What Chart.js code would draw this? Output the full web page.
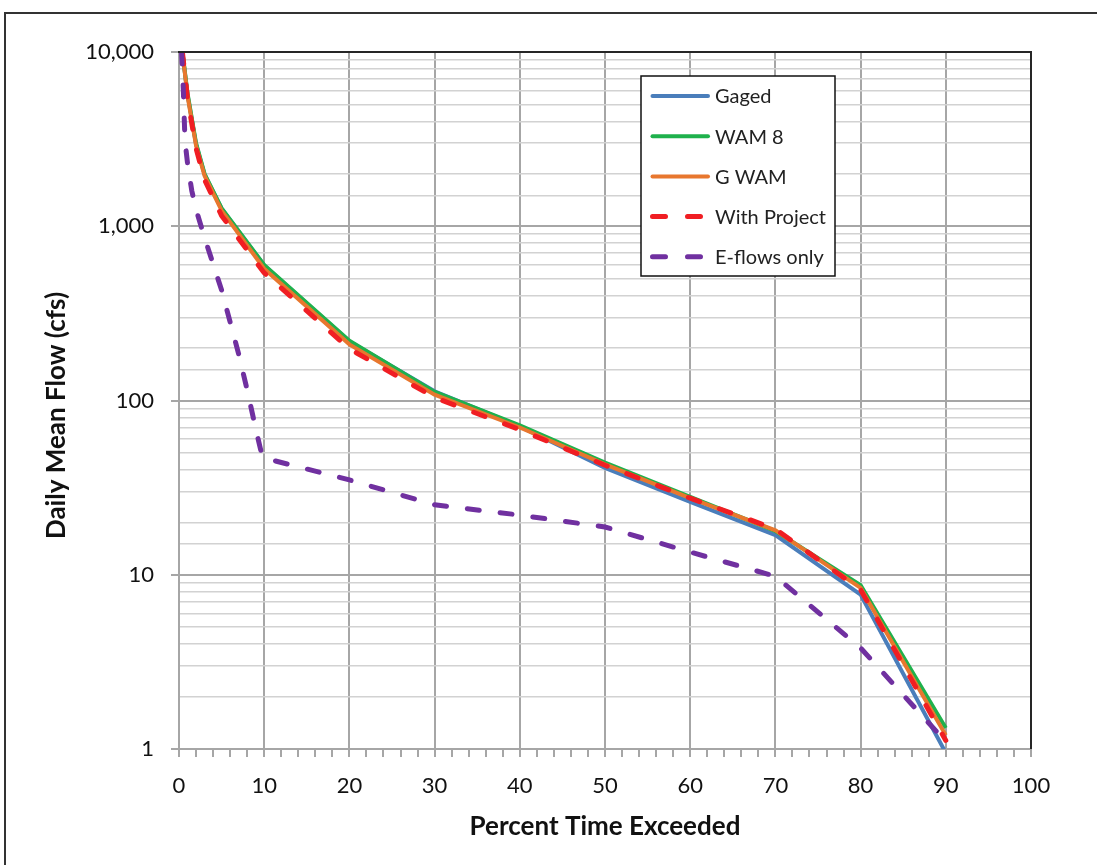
<!DOCTYPE html>
<html>
<head>
<meta charset="utf-8">
<title>Flow Duration Curve</title>
<script src="https://cdn.jsdelivr.net/npm/chart.js@4.4.1/dist/chart.umd.min.js"></script>
<style>
  html, body { margin: 0; padding: 0; background: #fff; }
  #wrap { position: relative; width: 1097px; height: 865px; overflow: hidden; }
  #frame { position: absolute; left: 4px; top: 12px; width: 1200px; height: 1000px; border: 2px solid #333; box-sizing: border-box; }
  #chart { position: absolute; left: 0; top: 0; }
</style>
</head>
<body>
<div id="wrap">
  <div id="frame"></div>
  <canvas id="chart" width="1097" height="865"></canvas>
</div>
<script>
// percent of time exceeded for the modelled / gaged series
const flowPct = [0.4, 1, 2, 3, 5, 10, 20, 30, 40, 50, 60, 70, 80, 90];
const gaged = [10000, 5700, 2950, 1980, 1260, 595, 218, 113, 71, 41, 26.2, 16.9, 7.7, 0.95];
const wam8 = [10000, 5800, 3000, 2000, 1270, 600, 220, 112, 72, 44, 28, 17.8, 8.7, 1.32];
const gwam = [10000, 5600, 2900, 1950, 1230, 570, 210, 108, 70, 43, 27.5, 18, 8.4, 1.2];
const withProject = [10000, 5400, 2800, 1850, 1150, 540, 198, 104, 68, 42.5, 27.5, 18.3, 8.2, 1.12];

// e-flows only curve has its own exceedance points
const eflowPct = [0.3, 0.5, 0.7, 1, 1.5, 2, 3, 5, 7, 8, 9, 9.8, 20, 30, 40, 50, 60, 70, 80, 90];
const eflowsOnly = [10000, 6200, 3100, 2300, 1600, 1250, 860, 430, 185, 115, 69, 47, 35, 25.2, 22, 18.8, 13.5, 9.8, 3.8, 1.1];

// labelled ticks
const pctTicks = [0, 10, 20, 30, 40, 50, 60, 70, 80, 90, 100];
const flowTicks = [1, 10, 100, 1000, 10000];

const pair = (xs, ys) => xs.map((x, i) => ({ x: x, y: ys[i] }));

const dashed = [12, 21];

const datasets = [
  { label: 'Gaged', data: pair(flowPct, gaged), borderColor: '#4a7ebb', borderWidth: 4, order: 5 },
  { label: 'WAM 8', data: pair(flowPct, wam8), borderColor: '#1fb14c', borderWidth: 4, order: 4 },
  { label: 'G WAM', data: pair(flowPct, gwam), borderColor: '#e8772e', borderWidth: 4, order: 3 },
  { label: 'With Project', data: pair(flowPct, withProject), borderColor: '#f01e23', borderWidth: 5, borderDash: dashed, borderCapStyle: 'round', order: 2 },
  { label: 'E-flows only', data: pair(eflowPct, eflowsOnly), borderColor: '#7030a0', borderWidth: 5, borderDash: dashed, borderCapStyle: 'round', order: 1 }
];
datasets.forEach(d => { d.pointRadius = 0; d.tension = 0; d.fill = false; });

const isDecade = v => flowTicks.includes(v);

// dark top/right edge of the plot, the y title and the boxed legend
const plotExtras = {
  id: 'plotExtras',
  afterDatasetsDraw(chart) {
    const { ctx, chartArea: a } = chart;
    ctx.save();
    ctx.strokeStyle = '#262626';
    ctx.lineWidth = 2;
    ctx.beginPath();
    ctx.moveTo(a.left - 1, a.top);
    ctx.lineTo(a.right, a.top);
    ctx.lineTo(a.right, a.bottom);
    ctx.stroke();

    // y title sits a little below the middle of the axis
    ctx.save();
    ctx.translate(57, (a.top + a.bottom) / 2 + 15);
    ctx.rotate(-Math.PI / 2);
    ctx.font = 'bold 26px Lato';
    ctx.fillStyle = '#111';
    ctx.textAlign = 'center';
    ctx.textBaseline = 'middle';
    ctx.fillText('Daily Mean Flow (cfs)', 0, 0);
    ctx.restore();

    const bx = 641, by = 76, bw = 194, bh = 200;
    ctx.fillStyle = '#fff';
    ctx.fillRect(bx, by, bw, bh);
    ctx.strokeStyle = '#111';
    ctx.lineWidth = 1.5;
    ctx.strokeRect(bx, by, bw, bh);

    ctx.font = '20px Lato';
    ctx.textBaseline = 'middle';
    ctx.textAlign = 'left';
    chart.data.datasets.forEach((d, i) => {
      const y = by + 20 + i * 40.2;
      ctx.strokeStyle = d.borderColor;
      ctx.lineWidth = d.borderWidth;
      ctx.lineCap = 'round';
      ctx.setLineDash(d.borderDash ? [13, 22] : []);
      ctx.beginPath();
      ctx.moveTo(bx + 11.5, y);
      ctx.lineTo(bx + 67, y);
      ctx.stroke();
      ctx.setLineDash([]);
      ctx.fillStyle = '#222';
      ctx.fillText(d.label, bx + 74, y + 1);
    });
    ctx.restore();
  }
};

new Chart(document.getElementById('chart'), {
  type: 'line',
  data: { datasets: datasets },
  options: {
    responsive: false,
    animation: false,
    layout: { padding: { left: 0, right: 66, top: 52, bottom: 0 } },
    plugins: {
      legend: { display: false },
      tooltip: { enabled: false }
    },
    scales: {
      x: {
        type: 'linear',
        min: 0,
        max: 100,
        ticks: {
          stepSize: 2,
          autoSkip: false,
          maxRotation: 0,
          padding: 16,
          color: '#111',
          font: { family: 'Lato', size: 22 },
          callback: v => pctTicks.includes(v) ? String(v) : ''
        },
        grid: {
          color: c => pctTicks.includes(c.tick && c.tick.value) ? '#a6a6a6' : 'rgba(0,0,0,0)',
          lineWidth: 2,
          tickColor: '#a6a6a6',
          tickLength: 8
        },
        border: { color: '#a6a6a6', width: 2 },
        title: {
          display: true,
          text: 'Percent Time Exceeded',
          color: '#111',
          font: { family: 'Lato', size: 26, weight: 'bold' },
          padding: { top: 0, bottom: 23 }
        },
        afterFit: s => { s.height = 116; }
      },
      y: {
        type: 'logarithmic',
        min: 1,
        max: 10000,
        ticks: {
          autoSkip: false,
          padding: 17,
          color: '#111',
          font: { family: 'Lato', size: 22 },
          callback: v => isDecade(v) ? v.toLocaleString('en-US') : ''
        },
        grid: {
          color: c => isDecade(c.tick && c.tick.value) ? '#a6a6a6' : '#d2d2d2',
          lineWidth: c => isDecade(c.tick && c.tick.value) ? 2 : 1.5,
          tickColor: c => isDecade(c.tick && c.tick.value) ? '#a6a6a6' : 'rgba(0,0,0,0)',
          tickLength: 8
        },
        border: { color: '#a6a6a6', width: 2 },
        afterFit: s => { s.width = 179; }
      }
    }
  },
  plugins: [plotExtras]
});
</script>
</body>
</html>
